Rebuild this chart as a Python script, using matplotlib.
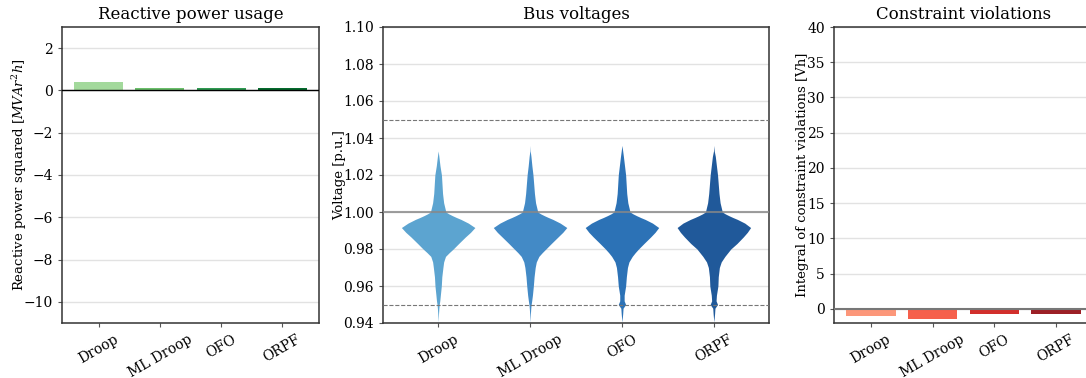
import numpy as np
import matplotlib
matplotlib.use("Agg")
import matplotlib.pyplot as plt

plt.rcParams['font.family'] = ['DejaVu Serif']
plt.rcParams['mathtext.fontset'] = 'dejavuserif'

# Data
methods = ["Droop", "ML Droop", "OFO", "ORPF"]
q_usage = [0.42, 0.095, 0.095, 0.095]
violations = [-1.0, -1.42, -0.71, -0.71]

# Voltage distribution profiles (relative violin half-width at each level)
v_levels = [1.036, 1.033, 1.030, 1.025, 1.020, 1.010, 1.005, 1.000, 0.999, 0.998,
            0.997, 0.996, 0.994, 0.9916, 0.989, 0.9865, 0.983, 0.980, 0.978, 0.976,
            0.973, 0.970, 0.965, 0.960, 0.955, 0.952, 0.950, 0.948, 0.945, 0.9405]
dens_droop = [0, 0, 0.02, 0.05, 0.09, 0.12, 0.15, 0.21, 0.29, 0.39,
              0.50, 0.62, 0.82, 1.0, 0.88, 0.74, 0.56, 0.41, 0.30, 0.20,
              0.15, 0.13, 0.10, 0.086, 0.06, 0.045, 0.03, 0.02, 0.01, 0]
dens_ml = [0, 0.005, 0.025, 0.05, 0.08, 0.12, 0.15, 0.21, 0.29, 0.39,
           0.50, 0.62, 0.82, 1.0, 0.89, 0.76, 0.58, 0.43, 0.33, 0.24,
           0.17, 0.14, 0.11, 0.09, 0.065, 0.045, 0.03, 0.02, 0.01, 0]
dens_ofo = [0, 0.02, 0.04, 0.07, 0.10, 0.13, 0.16, 0.22, 0.30, 0.40,
            0.51, 0.63, 0.83, 1.0, 0.90, 0.78, 0.60, 0.45, 0.36, 0.28,
            0.19, 0.15, 0.12, 0.10, 0.06, 0.06, 0.10, 0.03, 0.02, 0]
dens_orpf = [0, 0.01, 0.04, 0.07, 0.10, 0.14, 0.17, 0.23, 0.31, 0.41,
             0.52, 0.64, 0.84, 1.0, 0.91, 0.80, 0.63, 0.46, 0.38, 0.30,
             0.20, 0.15, 0.12, 0.11, 0.07, 0.06, 0.10, 0.03, 0.02, 0]
densities = [dens_droop, dens_ml, dens_ofo, dens_orpf]

greens = ['#a3d99c', '#6bbf6b', '#2f9a52', '#056b2e']
blues = ['#5ca4d0', '#438ac6', '#2c72b6', '#20599a']
reds = ['#fc977a', '#f6604c', '#d22f2c', '#9c1f26']

fig = plt.figure(figsize=(10.86, 3.78), dpi=100)
ax1 = fig.add_axes([62/1086, 55/378, 257/1086, 296/378])
ax2 = fig.add_axes([383/1086, 55/378, 386/1086, 296/378])
ax3 = fig.add_axes([834/1086, 55/378, 259/1086, 296/378])

x = np.arange(len(methods))


def style(ax):
    for s in ax.spines.values():
        s.set_color('#333333')
        s.set_linewidth(1.1)
    ax.grid(axis='y', color='#e2e2e2', linewidth=1)
    ax.set_axisbelow(True)
    ax.tick_params(axis='both', length=3, color='#555555', labelsize=10)
    ax.set_xticks(x)
    ax.set_xticklabels(methods, rotation=30, ha='center')
    ax.set_xlim(-0.6, 3.6)


# Reactive power usage
style(ax1)
ax1.bar(x, q_usage, width=0.8, color=greens, zorder=2)
ax1.axhline(0, color='black', linewidth=1, zorder=3)
ax1.set_ylim(-11, 3)
ax1.set_yticks(np.arange(-10, 3, 2))
ax1.set_title("Reactive power usage", fontsize=12)
ax1.set_ylabel(r"Reactive power squared [$MVAr^2h$]", fontsize=9.5, labelpad=-4)

# Bus voltages
style(ax2)
for i, d in enumerate(densities):
    w = 0.4 * np.array(d)
    ax2.fill_betweenx(v_levels, i - w, i + w, color=blues[i],
                      linewidth=0, zorder=2)
ax2.axhline(1.0, color='#888888', linewidth=1.5, alpha=0.8, zorder=3)
ax2.axhline(1.05, color='#777777', linewidth=0.8, linestyle='--', zorder=3)
ax2.axhline(0.95, color='#777777', linewidth=0.8, linestyle='--', zorder=3)
ax2.set_ylim(0.94, 1.10)
ax2.set_yticks(np.arange(0.94, 1.101, 0.02))
ax2.yaxis.set_major_formatter(matplotlib.ticker.FormatStrFormatter('%.2f'))
ax2.set_title("Bus voltages", fontsize=12)
ax2.set_ylabel("Voltage [p.u.]", fontsize=9.5, labelpad=-2)

# Constraint violations
style(ax3)
ax3.bar(x, violations, width=0.8, color=reds, zorder=2)
ax3.axhline(0, color='#777777', linewidth=1.5, zorder=3)
ax3.set_ylim(-2, 40)
ax3.set_yticks(np.arange(0, 41, 5))
ax3.set_title("Constraint violations", fontsize=12)
ax3.set_ylabel("Integral of constraint violations [Vh]", fontsize=9.5, labelpad=-1)

fig.savefig("out.png", dpi=100)
